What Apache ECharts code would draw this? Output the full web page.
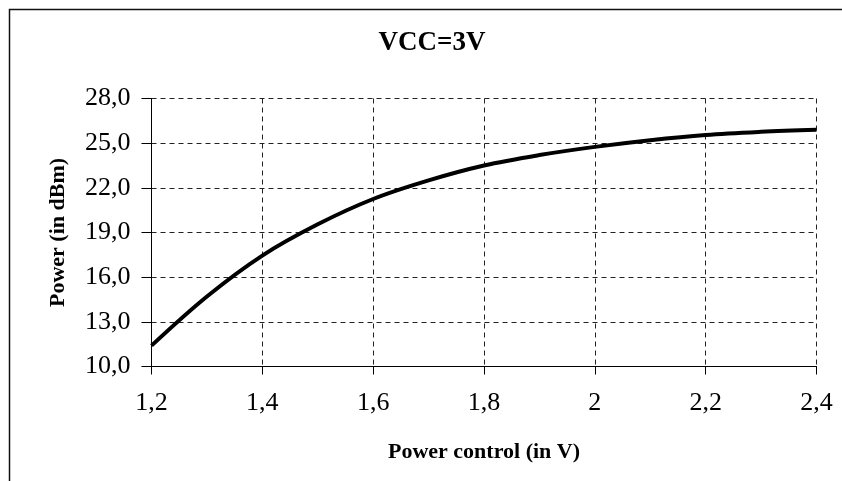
<!DOCTYPE html>
<html>
<head>
<meta charset="utf-8">
<script src="https://cdn.jsdelivr.net/npm/echarts@6/dist/echarts.min.js"></script>
<style>
html,body{margin:0;padding:0;background:#fff;}
#chart{width:842px;height:481px;}
</style>
</head>
<body>
<div id="chart"></div>
<script>
var titleText = 'VCC=3V';
var xName = 'Power control (in V)';
var yName = 'Power (in dBm)';
var controlVoltage = [1.2, 1.3, 1.4, 1.5, 1.6, 1.7, 1.8, 1.9, 2.0, 2.1, 2.2, 2.3, 2.4];
var powerDbm = [11.4, 14.7, 17.45, 19.55, 21.25, 22.5, 23.5, 24.2, 24.75, 25.2, 25.55, 25.76, 25.9];
var xTicks = [1.2, 1.4, 1.6, 1.8, 2.0, 2.2, 2.4];
var yTicks = [10, 13, 16, 19, 22, 25, 28];

var font = "'Liberation Serif', 'Times New Roman', serif";
var chart = echarts.init(document.getElementById('chart'), null, {renderer: 'canvas'});
var seriesData = controlVoltage.map(function (x, i) { return [x, powerDbm[i]]; });

chart.setOption({
  animation: false,
  backgroundColor: '#fff',
  graphic: [{
    type: 'rect',
    shape: {x: 9.5, y: 9.5, width: 900, height: 600},
    style: {fill: 'none', stroke: '#111', lineWidth: 1.5},
    z: 0
  }],
  title: {
    text: titleText,
    left: 432,
    textAlign: 'center',
    top: 30,
    padding: 0,
    textStyle: {fontFamily: font, fontWeight: 'bold', fontSize: 27, color: '#000'}
  },
  grid: {left: 151.5, right: 25.5, top: 98.5, bottom: 114.5, containLabel: false},
  xAxis: {
    type: 'value',
    min: 1.2, max: 2.4, interval: 0.2,
    name: xName, nameLocation: 'middle', nameGap: 75,
    nameTextStyle: {fontFamily: font, fontWeight: 'bold', fontSize: 22, color: '#000'},
    axisLine: {show: true, lineStyle: {color: '#000', width: 1}},
    axisTick: {show: true, length: 8, lineStyle: {color: '#000'}},
    axisLabel: {
      fontFamily: font, fontSize: 26, color: '#000', margin: 24,
      formatter: function (v) { return String(+v.toFixed(1)).replace('.', ','); }
    },
    splitLine: {show: true, lineStyle: {color: '#222', type: [5, 4], width: 1}}
  },
  yAxis: {
    type: 'value',
    min: 10, max: 28, interval: 3,
    name: yName, nameLocation: 'middle', nameGap: 82, nameRotate: 90,
    nameTextStyle: {fontFamily: font, fontWeight: 'bold', fontSize: 22, color: '#000'},
    axisLine: {show: true, lineStyle: {color: '#000', width: 1}},
    axisTick: {show: true, length: 10, lineStyle: {color: '#000'}},
    axisLabel: {
      fontFamily: font, fontSize: 26, color: '#000', margin: 21,
      formatter: function (v) { return v.toFixed(1).replace('.', ','); }
    },
    splitLine: {show: true, lineStyle: {color: '#222', type: [5, 4], width: 1}}
  },
  series: [{
    type: 'line',
    data: seriesData,
    smooth: 0.35,
    showSymbol: false,
    symbol: 'none',
    lineStyle: {color: '#000', width: 4},
    z: 3
  }]
});
</script>
</body>
</html>
